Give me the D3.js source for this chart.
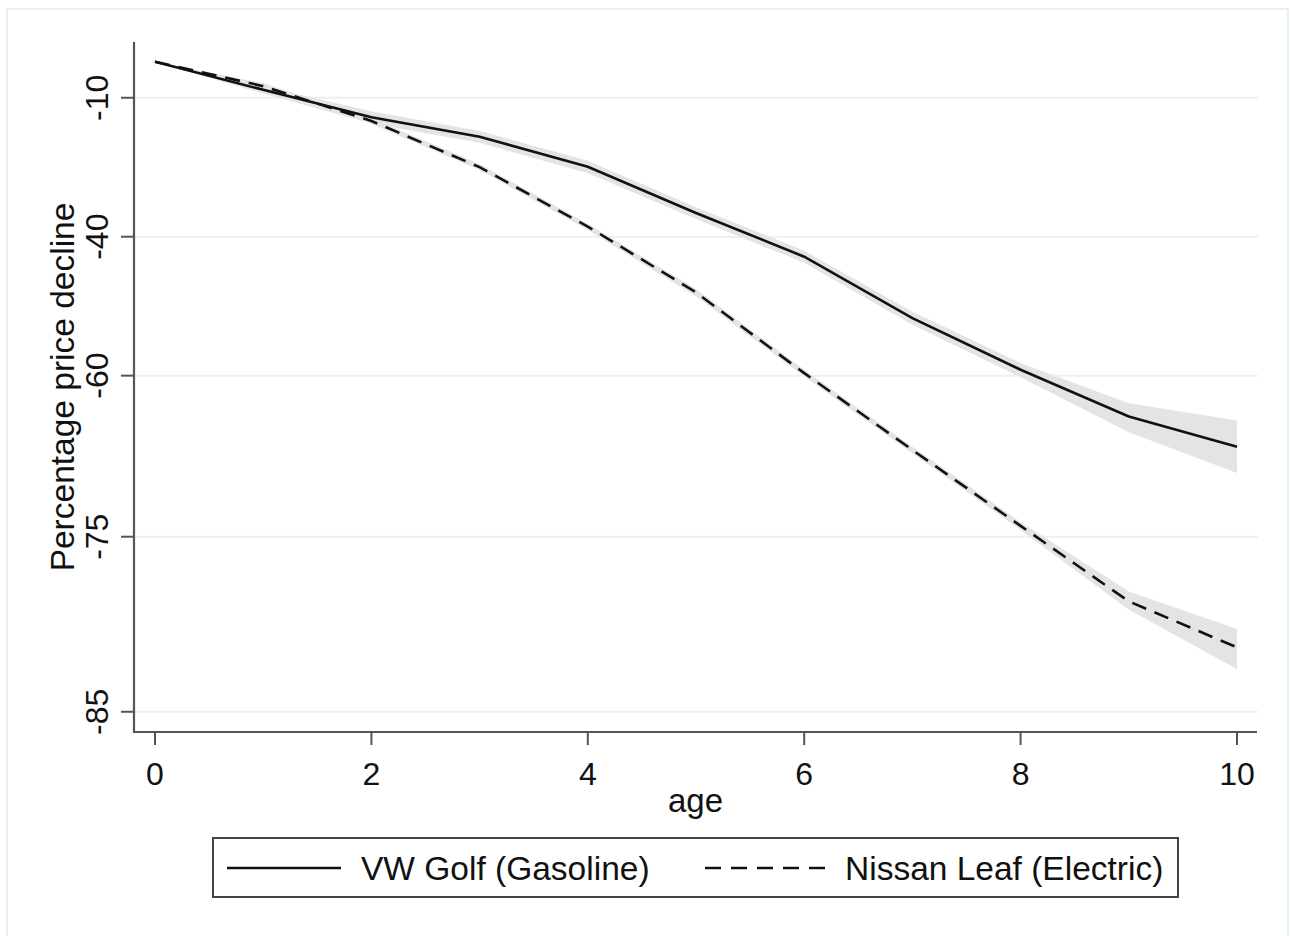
<!DOCTYPE html>
<html>
<head>
<meta charset="utf-8">
<script src="https://cdn.jsdelivr.net/npm/d3@7"></script>
<style>
  html, body { margin: 0; padding: 0; background: #fff; }
  svg { display: block; }
  text { font-family: "Liberation Sans", Arial, sans-serif; fill: #111; }
</style>
</head>
<body>
<svg id="chart" width="1290" height="936"></svg>
<script>
// ---- data (percentage price decline by age) ----
const ages = [0, 1, 2, 3, 4, 5, 6, 7, 8, 9, 10];
const golf      = [0, -7.9, -15.0, -19.7, -26.4, -35.7, -43.4, -52.7, -59.3, -64.5, -67.5];
const golfUpper = [0, -6.9, -13.5, -18.3, -25.1, -34.6, -42.4, -51.8, -58.5, -63.1, -64.9];
const golfLower = [0, -8.9, -16.5, -21.1, -27.8, -36.8, -44.4, -53.6, -60.2, -66.1, -69.9];
const leaf      = [0, -6.9, -15.9, -26.5, -38.2, -49.0, -59.7, -67.8, -74.2, -79.3, -81.9];
const leafUpper = [0, -6.1, -15.2, -25.8, -37.7, -48.5, -59.3, -67.5, -73.9, -78.7, -80.9];
const leafLower = [0, -7.7, -16.6, -27.1, -38.8, -49.6, -60.1, -68.1, -74.5, -79.8, -83.0];
const xTicks = [0, 2, 4, 6, 8, 10];
const yTicks = [-10, -40, -60, -75, -85];
const seriesNames = ["VW Golf (Gasoline)", "Nissan Leaf (Electric)"];

(function () {
const svg = d3.select("#chart");
const pL = 134, pR = 1257, pT = 42, pB = 732;

// outer frame
svg.append("rect").attr("x", 7).attr("y", 9).attr("width", 1281).attr("height", 940)
  .attr("fill", "#fff").attr("stroke", "#e8f0f2").attr("stroke-width", 2);

const x = d3.scaleLinear().domain([0, 10]).range([155, 1237]);
// y axis is logarithmic in remaining value (100 + decline)
const yLog = d3.scaleLog().domain([14.14, 105.9]).range([pB, pT]);
const y = v => yLog(100 + v);

// gridlines
svg.append("g").selectAll("line").data(yTicks).join("line")
  .attr("x1", pL).attr("x2", pR + 1)
  .attr("y1", d => y(d)).attr("y2", d => y(d))
  .attr("stroke", "#eaf2f3").attr("stroke-width", 2);

// CI bands
function band(lo, hi) {
  const data = ages.map((a, i) => ({a, lo: lo[i], hi: hi[i]}));
  return d3.area().x(d => x(d.a)).y0(d => y(d.lo)).y1(d => y(d.hi))(data);
}
svg.append("path").attr("d", band(golfLower, golfUpper)).attr("fill", "#e4e4e4");
svg.append("path").attr("d", band(leafLower, leafUpper)).attr("fill", "#e4e4e4");

// lines
const line = vals => d3.line().x((d, i) => x(ages[i])).y(d => y(d))(vals);
svg.append("path").attr("d", line(golf)).attr("fill", "none")
  .attr("stroke", "#111").attr("stroke-width", 2.6);
svg.append("path").attr("d", line(leaf)).attr("fill", "none")
  .attr("stroke", "#111").attr("stroke-width", 2.6).attr("stroke-dasharray", "15,9");

// y axis
const yAxisG = svg.append("g").attr("transform", `translate(${pL},0)`);
yAxisG.append("line").attr("x1", 0).attr("x2", 0).attr("y1", pT).attr("y2", pB + 1)
  .attr("stroke", "#555").attr("stroke-width", 2.2);
yAxisG.selectAll("line.tick").data(yTicks).join("line").attr("class", "tick")
  .attr("x1", -13).attr("x2", 0).attr("y1", d => y(d)).attr("y2", d => y(d))
  .attr("stroke", "#555").attr("stroke-width", 2);
yAxisG.selectAll("text").data(yTicks).join("text")
  .attr("transform", d => `translate(-26,${y(d)}) rotate(-90)`)
  .attr("text-anchor", "middle").attr("font-size", 32)
  .text(d => d);

// x axis
const xAxisG = svg.append("g").attr("transform", `translate(0,${pB})`);
xAxisG.append("line").attr("x1", pL - 1).attr("x2", pR).attr("y1", 0).attr("y2", 0)
  .attr("stroke", "#555").attr("stroke-width", 2.2);
xAxisG.selectAll("line.tick").data(xTicks).join("line").attr("class", "tick")
  .attr("x1", d => x(d)).attr("x2", d => x(d)).attr("y1", 0).attr("y2", 13)
  .attr("stroke", "#555").attr("stroke-width", 2);
xAxisG.selectAll("text").data(xTicks).join("text")
  .attr("x", d => x(d)).attr("y", 53)
  .attr("text-anchor", "middle").attr("font-size", 32)
  .text(d => d);

// axis titles
svg.append("text").attr("x", (pL + pR) / 2).attr("y", 812)
  .attr("text-anchor", "middle").attr("font-size", 33).text("age");
svg.append("text").attr("transform", `translate(74,${(pT + pB) / 2}) rotate(-90)`)
  .attr("text-anchor", "middle").attr("font-size", 33.5).text("Percentage price decline");

// legend
const lg = svg.append("g");
lg.append("rect").attr("x", 213).attr("y", 838).attr("width", 965).attr("height", 59)
  .attr("fill", "#fff").attr("stroke", "#444").attr("stroke-width", 2);
lg.append("line").attr("x1", 227).attr("x2", 341).attr("y1", 868).attr("y2", 868)
  .attr("stroke", "#111").attr("stroke-width", 2.6);
lg.append("text").attr("x", 361).attr("y", 880).attr("font-size", 33.5).text(seriesNames[0]);
lg.append("line").attr("x1", 705).attr("x2", 827).attr("y1", 868).attr("y2", 868)
  .attr("stroke", "#111").attr("stroke-width", 2.6).attr("stroke-dasharray", "16,10");
lg.append("text").attr("x", 845).attr("y", 880).attr("font-size", 33.5).text(seriesNames[1]);
})();
</script>
</body>
</html>
